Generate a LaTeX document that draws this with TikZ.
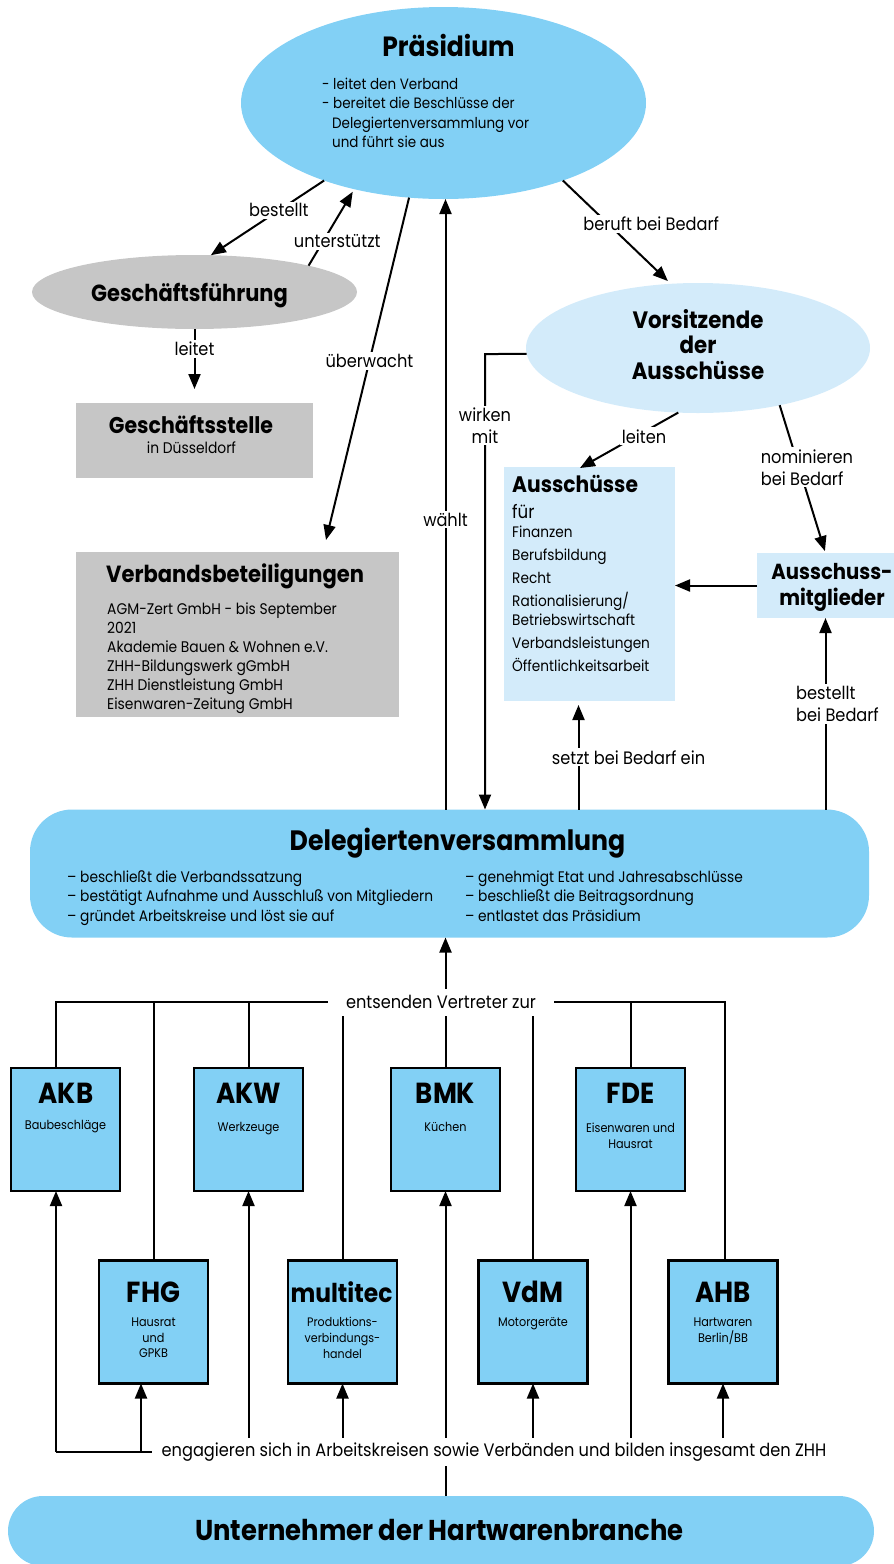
\documentclass[tikz,border=0pt]{standalone}
\usepackage{fontspec}
\setmainfont{Poppins}[FakeStretch=0.9]
\usetikzlibrary{shapes.geometric,arrows.meta,calc}
\definecolor{blueA}{HTML}{82D0F5}
\definecolor{blueB}{HTML}{D3EBFA}
\definecolor{grayA}{HTML}{C6C6C6}
\newcommand{\sz}[2]{\fontsize{#1}{#2}\selectfont}
\tikzset{
  conn/.style={line width=2pt},
  arr/.style={line width=2pt,-{Triangle[length=15pt,width=12pt]}},
  lbl/.style={fill=white,inner sep=2pt,align=center,font=\sz{18}{22}},
  ttl/.style={inner sep=0,font=\bfseries\sz{#1}{#1}},
  txt/.style={inner sep=0,font=\sz{#1}{#1}},
  ellB/.style={ellipse,inner sep=0,outer sep=0},
  rectB/.style={rectangle,inner sep=0,outer sep=0},
  box/.style={draw=black,line width=2.5pt,fill=blueA,minimum width=109pt,minimum height=123pt,inner sep=0,outer sep=0},
}
\begin{document}
\begin{tikzpicture}[x=1pt,y=-1pt]
\useasboundingbox (0,0) rectangle (894,1564);

% ---------- shapes ----------
\node[ellB,fill=blueA,minimum width=405pt,minimum height=192pt] (P) at (443.5,103) {};
\node[ellB,fill=grayA,minimum width=325pt,minimum height=74pt] (G) at (194.5,292) {};
\node[ellB,fill=blueB,minimum width=344pt,minimum height=130pt] (V) at (698,348) {};
\node[rectB,fill=grayA,minimum width=237pt,minimum height=75pt] (GS) at (194.5,440.5) {};
\node[rectB,fill=grayA,minimum width=323pt,minimum height=165pt] (VB) at (237.5,634.5) {};
\node[rectB,fill=blueB,minimum width=171pt,minimum height=234pt] (A) at (589.5,584) {};
\node[rectB,fill=blueB,minimum width=137pt,minimum height=65pt] (M) at (825.5,585.5) {};
\node[rectB,fill=blueA,rounded corners=42pt,minimum width=839pt,minimum height=128pt] (DV) at (449.5,873.5) {};
\node[rectB,fill=blueA,rounded corners=35pt,minimum width=866pt,minimum height=70pt] (U) at (441,1531) {};

\node[box] (AKB) at (65.5,1129.5) {};
\node[box] (AKW) at (248.5,1129.5) {};
\node[box] (BMK) at (445.5,1129.5) {};
\node[box] (FDE) at (630.5,1129.5) {};
\node[box] (FHG) at (153.5,1322) {};
\node[box] (MT) at (342.5,1322) {};
\node[box] (VdM) at (533,1322) {};
\node[box] (AHB) at (723,1322) {};

% ---------- texts ----------
\node[ttl=27.8,anchor=base] (Pt) at (448.5,56) {Präsidium};
\node[txt=15,anchor=base west] (pb1) at (322,89) {- leitet den Verband};
\node[txt=15,anchor=base west] (pb2) at (322,108.5) {- bereitet die Beschlüsse der};
\node[txt=15,anchor=base west] (pb3) at (332,128) {Delegiertenversammlung vor};
\node[txt=15,anchor=base west] (pb4) at (332,147.5) {und führt sie aus};

\node[ttl=23.3,anchor=base] (Gt) at (189.5,301.5) {Geschäftsführung};
\node[ttl=22.8,anchor=base] (GSt) at (191,433) {Geschäftsstelle};
\node[txt=15.4,anchor=base] (GSs) at (191.5,453) {in Düsseldorf};

\node[ttl=23.4,anchor=base west] (VBt) at (106,582) {Verbandsbeteiligungen};
\foreach \t [count=\i] in {AGM-Zert GmbH - bis September,2021,Akademie Bauen \& Wohnen e.V.,ZHH-Bildungswerk gGmbH,ZHH Dienstleistung GmbH,Eisenwaren-Zeitung GmbH}
  \node[txt=15.4,anchor=base west] (vb\i) at (107,595+19*\i) {\t};

\node[ttl=23.7,anchor=base] (Vt1) at (698,328) {Vorsitzende};
\node[ttl=23.7,anchor=base] (Vt2) at (698,353.5) {der};
\node[ttl=23.7,anchor=base] (Vt3) at (698,379) {Ausschüsse};

\node[ttl=22.5,anchor=base west] (At) at (512,492) {Ausschüsse};
\node[txt=18.5,anchor=base west] (Af) at (512,518) {für};
\node[txt=15.2,anchor=base west] (a1) at (512,537) {Finanzen};
\node[txt=15.2,anchor=base west] (a2) at (512,560) {Berufsbildung};
\node[txt=15.2,anchor=base west] (a3) at (512,583) {Recht};
\node[txt=15.2,anchor=base west] (a4) at (512,606) {Rationalisierung/};
\node[txt=15.2,anchor=base west] (a5) at (512,625) {Betriebswirtschaft};
\node[txt=15.2,anchor=base west] (a6) at (512,648) {Verbandsleistungen};
\node[txt=15.2,anchor=base west] (a7) at (512,671) {Öffentlichkeitsarbeit};

\node[ttl=21.8,anchor=base] (Mt1) at (832,579) {Ausschuss-};
\node[ttl=21.8,anchor=base] (Mt2) at (832,605) {mitglieder};

\node[ttl=28,anchor=base] (DVt) at (457.5,850) {Delegiertenversammlung};
\node[txt=15.3,anchor=base west] (d1) at (67,882) {– beschließt die Verbandssatzung};
\node[txt=15.3,anchor=base west] (d2) at (67,901.5) {– bestätigt Aufnahme und Ausschluß von Mitgliedern};
\node[txt=15.3,anchor=base west] (d3) at (67,921) {– gründet Arbeitskreise und löst sie auf};
\node[txt=15.3,anchor=base west] (d4) at (465,882) {– genehmigt Etat und Jahresabschlüsse};
\node[txt=15.3,anchor=base west] (d5) at (465,901.5) {– beschließt die Beitragsordnung};
\node[txt=15.3,anchor=base west] (d6) at (465,921) {– entlastet das Präsidium};

\node[ttl=28.7,anchor=base] (Ut) at (439.5,1540) {Unternehmer der Hartwarenbranche};

\node[ttl=29,anchor=base] (t1) at (66,1103) {AKB};
\node[txt=12.5,anchor=base] (s1) at (65.5,1129) {Baubeschläge};
\node[ttl=29,anchor=base] (t2) at (248.5,1103) {AKW};
\node[txt=12.5,anchor=base] (s2) at (248.5,1131) {Werkzeuge};
\node[ttl=29,anchor=base] (t3) at (445.5,1103) {BMK};
\node[txt=12.5,anchor=base] (s3) at (445.5,1131) {Küchen};
\node[ttl=29,anchor=base] (t4) at (630.5,1103) {FDE};
\node[txt=12.5,anchor=base] (s4a) at (630.5,1132) {Eisenwaren und};
\node[txt=12.5,anchor=base] (s4b) at (630.5,1148) {Hausrat};
\node[ttl=29,anchor=base] (t5) at (153.5,1302) {FHG};
\node[txt=12.5,anchor=base] (s5a) at (153.5,1326) {Hausrat};
\node[txt=12.5,anchor=base] (s5b) at (153.5,1342) {und};
\node[txt=12.5,anchor=base] (s5c) at (153.5,1357) {GPKB};
\node[ttl=26,anchor=base] (t6) at (341.5,1302) {multitec};
\node[txt=12.3,anchor=base] (s6a) at (342.5,1326) {Produktions-};
\node[txt=12.3,anchor=base] (s6b) at (342.5,1342) {verbindungs-};
\node[txt=12.3,anchor=base] (s6c) at (342.5,1358) {handel};
\node[ttl=29,anchor=base] (t7) at (533,1302) {VdM};
\node[txt=12.5,anchor=base] (s7) at (533,1326) {Motorgeräte};
\node[ttl=29,anchor=base] (t8) at (723,1302) {AHB};
\node[txt=12.5,anchor=base] (s8a) at (723,1326) {Hartwaren};
\node[txt=12.5,anchor=base] (s8b) at (723,1342) {Berlin/BB};

% ---------- connectors (upper part) ----------
\draw[arr] (P.213) -- node[lbl,pos=0.4] (lb1) {bestellt} (G.66);
\draw[arr,shorten >=3pt] (G.13) -- node[lbl,pos=0.32,xshift=14pt] (lb2) {unterstützt} (P.224);
\draw[arr,shorten >=14pt] (G.south) -- node[lbl,pos=0.27] (lb3) {leitet} (GS.north);
\coordinate (vbTip) at ($(VB.north)+(88.5,-12)$);
\draw[arr] (P.250) -- node[lbl,pos=0.477] (lb4) {überwacht} (vbTip);
\draw[arr] (DV.north -| BMK.north) -- node[lbl,pos=0.475] (lb5) {wählt} (P.south -| BMK.north);
\draw[arr,shorten >=4pt] (P.327) -- node[lbl,pos=0.42,xshift=43pt] (lb6) {beruft bei Bedarf} (V.113);
\coordinate (wk) at (485,354);
\draw[arr] (V.182) -- (wk) -- node[lbl,pos=0.157] (lb7) {wirken\\mit} (wk |- DV.north);
\coordinate (aTip) at ($(A.north)+(-9.5,1)$);
\draw[arr] (V.253) -- node[lbl,pos=0.43,xshift=8pt] (lb8) {leiten} (aTip);
\draw[arr,shorten >=2pt] (V.325) -- node[lbl,pos=0.42,xshift=8pt,align=left] (lb9) {nominieren\\bei Bedarf} (M.north);
\draw[arr] (M.west) -- (M.west -| A.east);
\coordinate (sA) at ($(A.south)+(-11,0)$);
\draw[arr,shorten >=4pt] (sA |- DV.north) -- node[lbl,pos=0.48,xshift=50pt] (lb10) {setzt bei Bedarf ein} (sA);
\draw[arr] (M.south |- DV.north) -- node[lbl,pos=0.55,xshift=12pt,align=left] (lb11) {bestellt\\bei Bedarf} (M.south);

% ---------- connectors (lower part) ----------
\coordinate (T) at (441,1002);
\coordinate (hl) at (56,1002);
\coordinate (hr) at (725,1002);
\draw[conn] (AKB.north -| hl) -- (hl) -- (hr) -- (hr |- AHB.north);
\foreach \b in {FHG,AKW,MT,VdM,FDE} \draw[conn] (\b.north) -- (\b.north |- T);
\draw[arr] (BMK.north) -- (BMK.north |- DV.south);
\node[fill=white,inner xsep=18pt,inner ysep=0pt,minimum height=27pt,font=\sz{18}{22}] (lt) at (T) {entsenden Vertreter zur};

\coordinate (B) at (494,1452);
\coordinate (bl) at (56,1452);
\coordinate (fh) at (141,1452);
\draw[conn] (bl) -- (bl -| AHB.south);
\draw[arr] (bl) -- (bl |- AKB.south);
\draw[arr] (fh) -- (fh |- FHG.south);
\foreach \b in {AKW,BMK,FDE,MT,VdM,AHB} \draw[arr] (\b.south |- B) -- (\b.south);
\draw[conn] (U.north -| BMK.south) -- (BMK.south |- B);
\node[fill=white,inner xsep=10pt,inner ysep=0pt,minimum height=28pt,font=\sz{18}{22}] (lu) at (B) {engagieren sich in Arbeitskreisen sowie Verbänden und bilden insgesamt den ZHH};
\end{tikzpicture}
\end{document}
